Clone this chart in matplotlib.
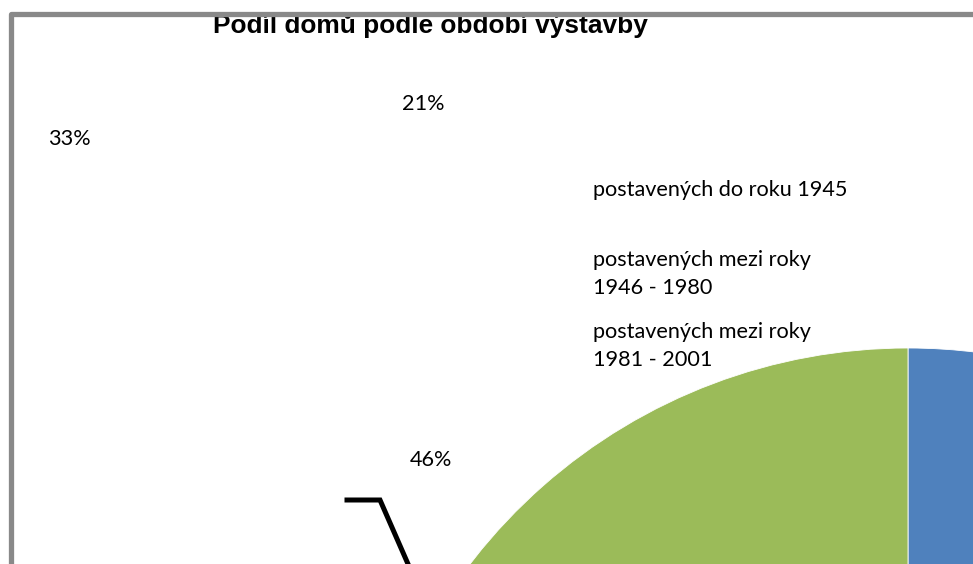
import matplotlib
matplotlib.use("Agg")
import matplotlib.pyplot as plt
from matplotlib.lines import Line2D
from matplotlib.patches import Rectangle

# data
categories = ["postavených do roku 1945",
              "postavených mezi roky\n1946 - 1980",
              "postavených mezi roky\n1981 - 2001"]
shares = [33, 21, 46]
colors = ["#4F81BD", "#C0504D", "#9BBB59"]
title = "Podíl domů podle období výstavby"

W, H = 973, 564
fig = plt.figure(figsize=(W / 100, H / 100), dpi=100)
ax = fig.add_axes([0, 0, 1, 1])

# the pie sits mostly outside the visible area (centre below the bottom edge)
ax.pie(shares, colors=colors, startangle=90, counterclock=False,
       center=(908, H - 900), radius=552, frame=True,
       wedgeprops=dict(linewidth=0.6, edgecolor="white"))
ax.set_xlim(0, W)
ax.set_ylim(0, H)
ax.set_aspect("equal")
ax.axis("off")

lab_font = dict(family="Lato", fontsize=15.6, color="black")

# percentage labels, scattered as in the original
pct_pos = [(69.5, 139), (423, 104.5), (430.5, 459.5)]
for v, (x, y) in zip(shares, pct_pos):
    ax.text(x, H - y, f"{v}%", ha="center", va="center", **lab_font)

# legend entries (no markers visible)
leg_y = [190, 274, 346]
for name, y in zip(categories, leg_y):
    ax.text(593, H - y, name, ha="left", va="center", linespacing=1.45, **lab_font)

# stray leader line
ax.add_line(Line2D([347, 380, 408], [H - 500, H - 500, H - 564],
                   color="black", lw=3.6, solid_joinstyle="miter"))

# title, clipped by the frame at the top
ax.text(213, H - 33, title, ha="left", va="baseline", fontsize=18.9,
        fontweight="bold", family="Liberation Sans", color="black", zorder=1)
ax.add_patch(Rectangle((0, H - 16), W, 16, facecolor="white",
                       edgecolor="none", zorder=5))

# chart frame (only top and left edges visible)
ax.add_line(Line2D([10.5, 10.5, W + 10], [-10, H - 13.5, H - 13.5],
                   color="#898989", lw=3.8, solid_joinstyle="round",
                   solid_capstyle="round", zorder=6))

fig.savefig("out.png", dpi=100)
